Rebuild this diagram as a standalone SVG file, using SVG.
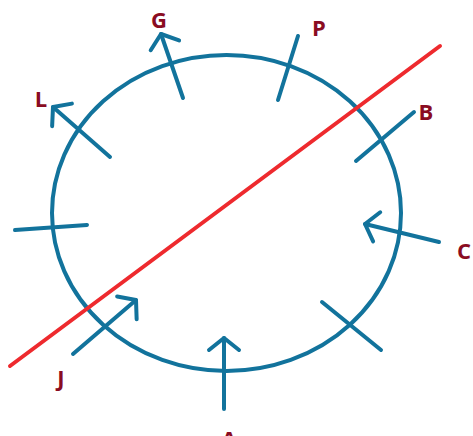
<svg xmlns="http://www.w3.org/2000/svg" width="473" height="436" viewBox="0 0 473 436">
<style>
.b{stroke:#12739c;stroke-width:4;fill:none;stroke-linecap:round;stroke-linejoin:round}
.r{stroke:#ee2a2e;stroke-width:4;fill:none;stroke-linecap:round}
.t{font-family:"Open Sans","Liberation Sans",sans-serif;font-weight:bold;font-size:22px;fill:#8a0c22;text-anchor:middle}
</style>
<defs>
<marker id="ah" markerUnits="userSpaceOnUse" markerWidth="40" markerHeight="40" refX="0" refY="0" orient="auto" overflow="visible">
<path d="M-12,-15 L0,0 L-12,15" fill="none" stroke="#12739c" stroke-width="4" stroke-linecap="round" stroke-linejoin="round"/>
</marker>
</defs>
<rect width="473" height="436" fill="#fff"/>
<g id="circle"><ellipse class="b" cx="226.5" cy="213" rx="174.5" ry="158"/></g>
<g id="connectors">
<line class="r" x1="10" y1="366" x2="440" y2="46"/>
</g>
<g id="G"><line class="b" x1="183" y1="98" x2="161" y2="34" marker-end="url(#ah)"/><text class="t" x="159" y="28">G</text></g>
<g id="P"><line class="b" x1="298" y1="36" x2="278" y2="100"/><text class="t" x="319" y="36">P</text></g>
<g id="L"><line class="b" x1="110" y1="157" x2="53" y2="107" marker-end="url(#ah)"/><text class="t" x="41" y="107">L</text></g>
<g id="B"><line class="b" x1="414" y1="112" x2="356" y2="161"/><text class="t" x="426" y="120">B</text></g>
<g id="W"><line class="b" x1="15" y1="230" x2="87" y2="225"/></g>
<g id="C"><line class="b" x1="439" y1="242" x2="365" y2="224" marker-end="url(#ah)"/><text class="t" x="464" y="259">C</text></g>
<g id="K"><line class="b" x1="322" y1="302" x2="381" y2="350"/></g>
<g id="J"><line class="b" x1="73" y1="354" x2="136" y2="300" marker-end="url(#ah)"/><text class="t" x="61" y="386">J</text></g>
<g id="A"><line class="b" x1="224" y1="409" x2="224" y2="338" marker-end="url(#ah)"/><text class="t" x="229" y="447">A</text></g>
</svg>
